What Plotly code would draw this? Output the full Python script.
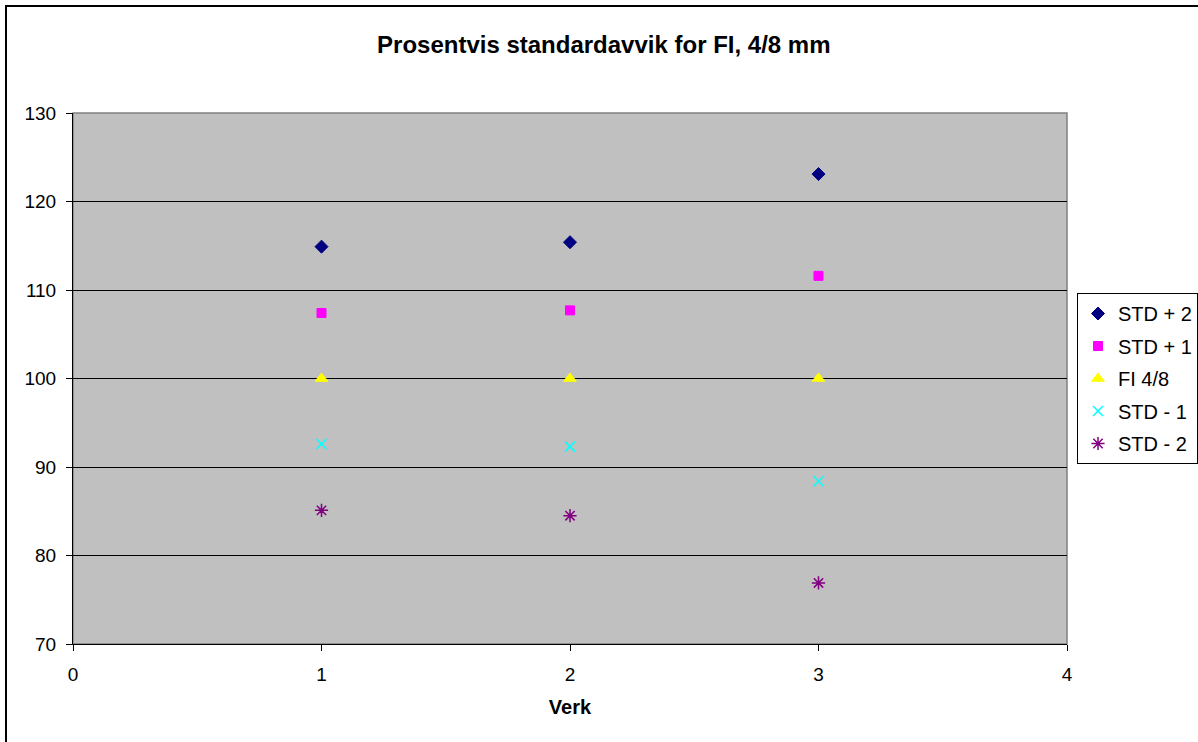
import plotly.graph_objects as go

verk = [1, 2, 3]
std_p2 = [114.9, 115.4, 123.1]
std_p1 = [107.4, 107.7, 111.6]
fi_48 = [100, 100, 100]
std_m1 = [92.6, 92.3, 88.4]
std_m2 = [85.1, 84.5, 76.9]

series = [
    ("STD + 2", std_p2, "diamond", "#000080", 10, 1),
    ("STD + 1", std_p1, "square", "#FF00FF", 9, 1),
    ("FI 4/8", fi_48, "triangle-up", "#FFFF00", 11, 1),
    ("STD - 1", std_m1, "x-thin-open", "#00FFFF", 10, 1.5),
    ("STD - 2", std_m2, "asterisk-open", "#800080", 11, 1.5),
]

fig = go.Figure()
for i, (name, vals, sym, col, size, lw) in enumerate(series):
    fig.add_trace(go.Scatter(
        x=verk, y=vals, mode="markers", name=name, legendgroup=str(i),
        marker=dict(symbol=sym, color=col, size=size,
                    line=dict(color=col, width=lw)),
    ))

fig.update_layout(
    width=1198, height=742,
    margin=dict(l=73, r=131, t=113, b=98, autoexpand=False),
    paper_bgcolor="white",
    plot_bgcolor="#C0C0C0",
    font=dict(family="Arial, Liberation Sans, sans-serif", size=19, color="black"),
    title=dict(text="<b>Prosentvis standardavvik for FI, 4/8 mm</b>",
               x=0.504, xanchor="center", y=1 - 45 / 742, yanchor="middle",
               font=dict(size=24)),
    showlegend=True,
    legend=dict(x=(1077 - 73) / 994, xanchor="left", y=(644 - 293) / 531, yanchor="top",
                bordercolor="black", borderwidth=1, bgcolor="white",
                font=dict(size=20), traceorder="grouped", tracegroupgap=3.5,
                itemwidth=30),
    xaxis=dict(range=[0, 4], tickvals=[0, 1, 2, 3, 4], showgrid=False,
               zeroline=False, showline=True, linecolor="black", linewidth=1,
               ticks="outside", ticklen=6, tickcolor="black",
               ticklabelstandoff=7,
               title=dict(text="<b>Verk</b>", font=dict(size=20), standoff=16)),
    yaxis=dict(range=[70, 130], tickvals=[70, 80, 90, 100, 110, 120, 130],
               showgrid=True, gridcolor="black", gridwidth=1,
               zeroline=False, showline=True, linecolor="black", linewidth=1,
               ticks="outside", ticklen=6, tickcolor="black",
               ticklabelstandoff=6),
    shapes=[
        dict(type="rect", xref="paper", yref="paper", x0=0, x1=1, y0=0, y1=1,
             line=dict(color="#808080", width=1.5), layer="below"),
        dict(type="rect", xref="paper", yref="paper",
             x0=(6 - 73) / 994, x1=1.3, y0=-0.4, y1=(644 - 6) / 531,
             line=dict(color="black", width=2), layer="below"),
    ],
)

fig.write_html("out.html")
